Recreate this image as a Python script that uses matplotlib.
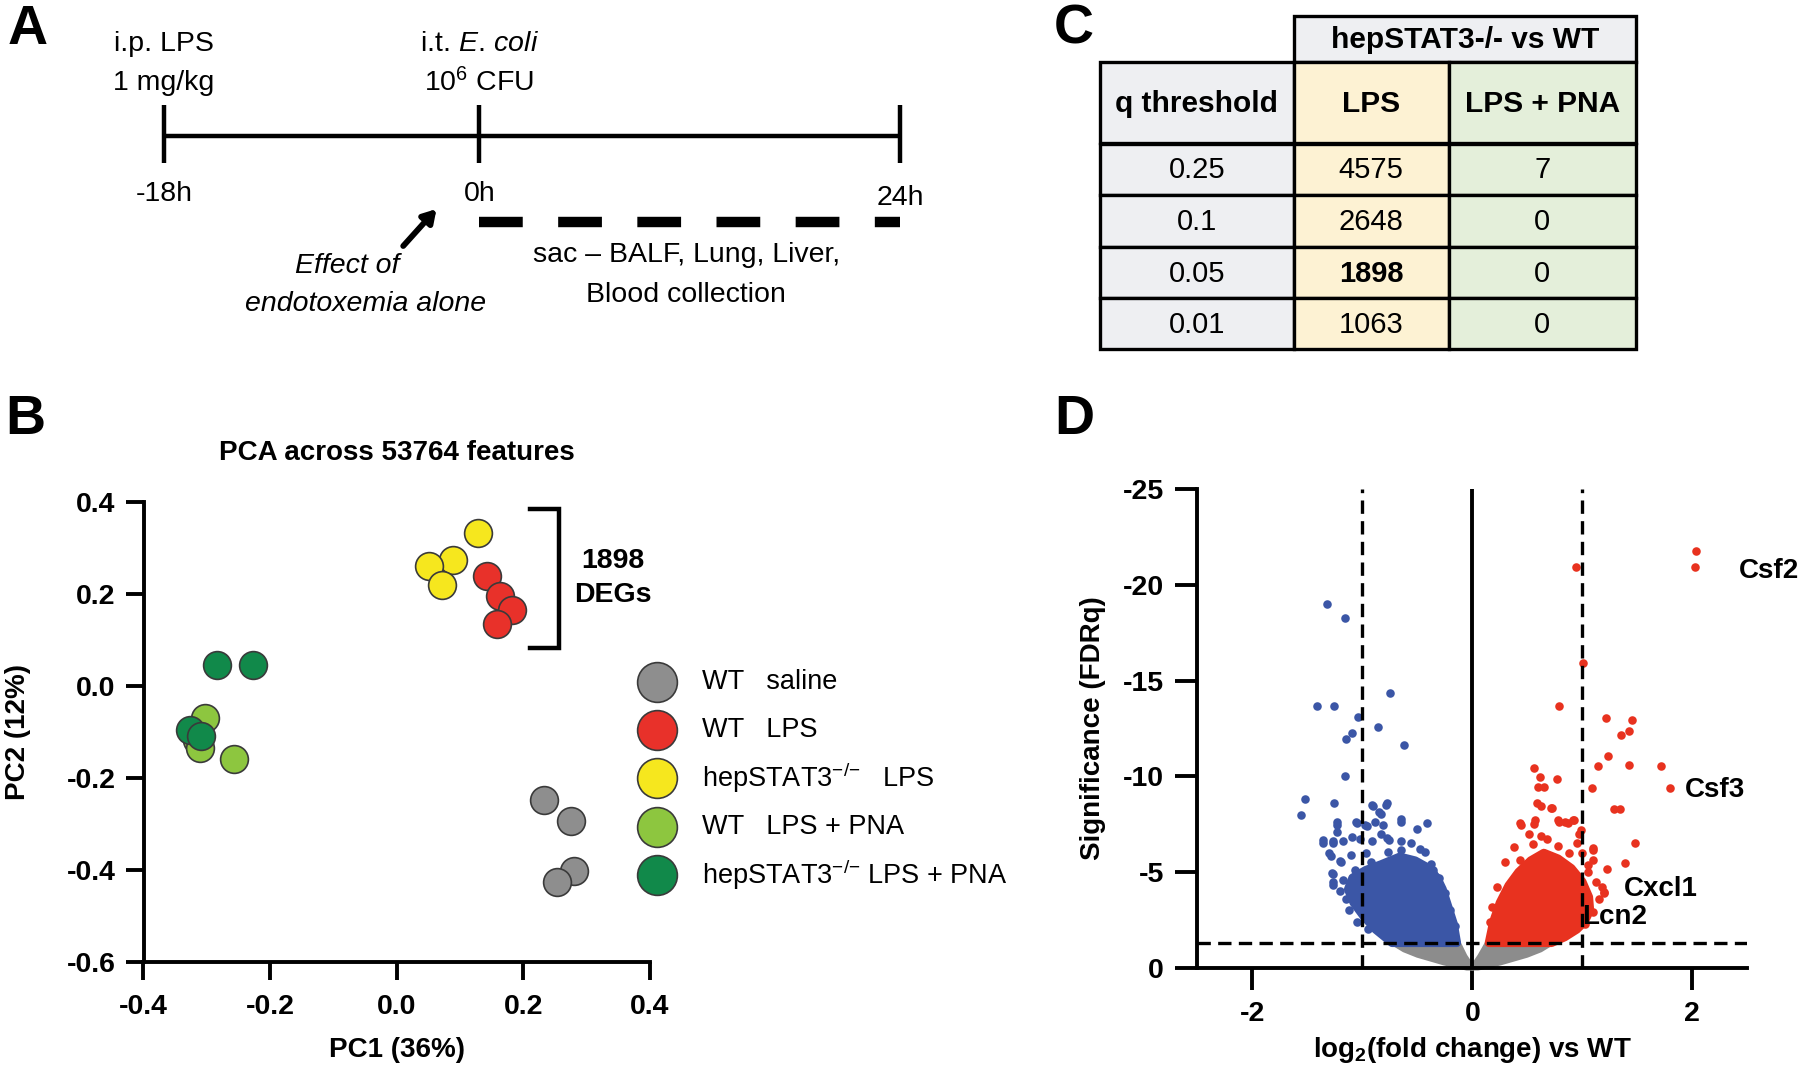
import numpy as np
import matplotlib
matplotlib.use("Agg")
import matplotlib.pyplot as plt
from matplotlib.patches import Polygon, Rectangle

FONT = ['Liberation Sans', 'DejaVu Sans']
plt.rcParams['font.family'] = FONT
plt.rcParams['axes.unicode_minus'] = False
plt.rcParams['mathtext.fontset'] = 'custom'
plt.rcParams['mathtext.rm'] = 'Liberation Sans'
plt.rcParams['mathtext.it'] = 'Liberation Sans:italic'
plt.rcParams['mathtext.bf'] = 'Liberation Sans:bold'

## ---- data ----
# panel A timeline (hours)
event_hours = [-18, 0, 24]
event_hour_labels = ["-18h", "0h", "24h"]
event_line1 = ["i.p. LPS", "i.t. $\\mathit{E.\\,coli}$", ""]
event_line2 = ["1 mg/kg", "10$^6$ CFU", ""]
collection_window = [0, 24]

# panel C table
q_thresholds = ["0.25", "0.1", "0.05", "0.01"]
degs_lps = [4575, 2648, 1898, 1063]
degs_lps_pna = [7, 0, 0, 0]

# panel B PCA
group_labels = ["WT   saline", "WT   LPS", "hepSTAT3$^{{-}/{-}}$   LPS",
                "WT   LPS + PNA", "hepSTAT3$^{{-}/{-}}$ LPS + PNA"]
group_colors = ["#8e8e8e", "#e8312a", "#f6e71e", "#8dc63f", "#11894a"]
pc1_wt_saline = [0.233, 0.276, 0.280, 0.254]
pc2_wt_saline = [-0.247, -0.293, -0.402, -0.426]
pc1_ko_lps = [0.129, 0.089, 0.051, 0.072]
pc2_ko_lps = [0.333, 0.274, 0.260, 0.219]
pc1_wt_lps = [0.143, 0.163, 0.182, 0.158]
pc2_wt_lps = [0.239, 0.195, 0.165, 0.135]
pc1_wt_pna = [-0.303, -0.315, -0.310, -0.257]
pc2_wt_pna = [-0.070, -0.118, -0.135, -0.158]
pc1_ko_pna = [-0.284, -0.227, -0.327, -0.309]
pc2_ko_pna = [0.045, 0.045, -0.095, -0.108]

# panel D volcano: individually visible genes
blue_x = [-1.318, -1.16, -0.746, -1.41, -1.258, -1.04, -0.861, -1.096, -1.147, -0.623,
          -1.16, -1.522, -1.258, -1.556, -0.904, -0.785, -0.827, -0.648, -0.414, -1.053,
          -1.232, -0.955, -1.36, -1.266, -1.023, -0.776, -1.288, -1.194, -1.266, -1.266,
          -0.358, -0.563, -0.478,
          -0.914, -0.778, -0.845, -1.228, -1.056, -0.98, -0.885, -0.815, -0.649, -0.505,
          -1.228, -1.357, -1.27, -1.18, -1.09, -0.91, -0.83, -0.76, -0.65, -0.56, -0.43,
          -1.3, -1.2, -1.1, -0.97, -0.77, -0.65, -0.357, -1.28, -1.27, -1.18, -1.07, -0.92,
          -1.12, -1.05, -0.95, -1.15, -0.3, -0.25, -0.2, -0.16, -0.38, -1.2, -1.0, -0.88]
blue_y = [-19.0, -18.26, -14.36, -13.67, -13.67, -13.1, -12.58, -12.27, -11.97, -11.62,
          -10.02, -8.82, -8.63, -7.98, -8.45, -8.5, -8.05, -7.63, -7.54, -7.54,
          -7.47, -7.4, -6.54, -6.54, -6.7, -6.77, -5.85, -5.5, -4.92, -4.34,
          -4.97, -5.57, -6.19,
          -8.5, -8.6, -8.15, -7.63, -7.63, -7.45, -7.63, -7.45, -7.75, -7.23,
          -7.1, -6.67, -6.6, -6.6, -6.85, -6.6, -7.0, -6.67, -6.6, -6.5, -6.06,
          -5.98, -5.6, -5.9, -5.98, -6.06, -6.15, -5.1, -4.93, -4.5, -4.58, -5.1, -5.5,
          -3.0, -2.4, -2.0, -3.6, -4.7, -3.9, -3.0, -2.2, -5.4, -4.0, -4.3, -5.2]
red_x = [2.036, 2.026, 0.938, 1.006, 0.789, 1.215, 1.454, 1.356, 1.42, 1.237,
         1.143, 1.42, 1.719, 0.559, 1.795, 1.092, 0.618, 0.768, 0.601, 0.652,
         1.292, 1.343, 0.589, 0.623, 0.716, 0.789, 0.866, 0.921, 0.972, 0.439,
         0.559, 1.475, 1.39, 1.228, 1.1, 1.194, 1.05,
         0.436, 0.571, 0.722, 0.782, 0.842, 0.917, 0.992, 0.511, 0.556, 0.676, 0.782,
         1.1, 0.436, 1.1, 0.38, 0.95, 1.05, 1.12, 1.15, 1.1, 1.02, 0.3, 0.22, 0.18,
         0.16, 0.62, 0.88, 1.0, 1.18, 1.2]
red_y = [-21.76, -20.94, -20.93, -15.92, -13.67, -13.06, -12.95, -12.18, -12.39, -11.07,
         -10.53, -10.58, -10.53, -10.44, -9.37, -9.37, -9.95, -9.86, -9.44, -9.44,
         -8.28, -8.28, -8.63, -8.47, -8.33, -7.63, -7.54, -7.7, -7.0, -7.47,
         -7.52, -6.54, -5.45, -5.15, -6.15, -3.94, -5.38,
         -7.55, -7.72, -8.34, -7.72, -7.6, -7.72, -7.2, -6.98, -6.45, -6.7, -6.36,
         -6.27, -5.63, -5.63, -6.3, -6.5, -5.0, -4.5, -3.6, -2.9, -2.3, -5.5, -4.2, -3.2,
         -2.4, -6.9, -6.0, -6.0, -4.2, -3.9]
# dense cores (outline of the solid mass of dots)
blue_core_x = [-0.73, -0.88, -0.99, -1.08, -1.13, -1.09, -0.97, -0.83, -0.66, -0.52, -0.41, -0.32, -0.27, -0.22, -0.17, -0.14]
blue_core_y = [-1.3, -2.0, -2.7, -3.4, -4.1, -4.7, -5.1, -5.4, -5.8, -5.6, -5.25, -4.7, -4.1, -3.2, -2.3, -1.3]
red_core_x = [0.15, 0.19, 0.25, 0.33, 0.42, 0.53, 0.65, 0.78, 0.9, 1.0, 1.06, 1.07, 1.02, 0.95, 0.84, 0.72]
red_core_y = [-1.3, -2.4, -3.4, -4.3, -5.0, -5.6, -6.0, -5.7, -5.2, -4.5, -3.7, -3.0, -2.4, -2.0, -1.6, -1.3]
gray_left_x = [-0.72, -0.13, -0.07, 0.0, -0.05, -0.258, -0.498, -0.62]
gray_left_y = [-1.3, -1.3, -0.6, 0.0, 0.0, -0.27, -0.67, -0.95]
gray_right_x = [0.14, 0.72, 0.62, 0.496, 0.255, 0.05, 0.0, 0.07]
gray_right_y = [-1.3, -1.3, -0.95, -0.67, -0.27, 0.0, 0.0, -0.6]
gene_labels = ["Csf2", "Csf3", "Cxcl1", "Lcn2"]
gene_label_x = [2.42, 1.93, 1.38, 0.995]
gene_label_y = [-20.7, -9.3, -4.1, -2.65]
fc_cut = 1.0
q_cut = 0.05

## ---- figure ----
fig = plt.figure(figsize=(18, 10.75), dpi=100)
W, H = 1800.0, 1075.0

def px_axes(x0, y0, x1, y1):
    # axes from a pixel box (top-left origin)
    return fig.add_axes([x0 / W, 1 - y1 / H, (x1 - x0) / W, (y1 - y0) / H])

# panel letters
for letter, (lx, ly) in zip("ABCD", [(8, 4), (5, 394), (1054, 4), (1054, 394)]):
    fig.text(lx / W, 1 - ly / H, letter, fontsize=40, fontweight='bold', ha='left', va='top')

# ---- A: timeline ----
ax_a = px_axes(0, 0, 1060, 330)
ax_a.set_xlim(-27.36, 33.13)
ax_a.set_ylim(330, 0)
ax_a.axis('off')
ax_a.plot([event_hours[0], event_hours[-1]], [135.5, 135.5], color='black', lw=3.2, solid_capstyle='butt')
for h, lab, l1, l2 in zip(event_hours, event_hour_labels, event_line1, event_line2):
    ax_a.plot([h, h], [105, 163], color='black', lw=3.2, solid_capstyle='butt')
    ax_a.text(h, 194 if h < 24 else 198, lab, fontsize=20.5, ha='center', va='center')
    if l1:
        ax_a.text(h, 44, l1, fontsize=20.5, ha='center', va='center')
        ax_a.text(h, 83, l2, fontsize=20.5, ha='center', va='center')
ax_a.plot(collection_window, [221.5, 221.5], color='black', lw=7.5, dashes=(4.2, 3.4))
ax_a.annotate("", xy=(-2.45, 209), xytext=(-4.35, 246),
              arrowprops=dict(arrowstyle='-|>,head_length=0.75,head_width=0.45', color='black', lw=4.2,
                              shrinkA=0, shrinkB=0))
ax_a.text(-7.56, 266, "Effect of", fontsize=20.5, style='italic', ha='center', va='center')
ax_a.text(-6.5, 304, "endotoxemia alone", fontsize=20.5, style='italic', ha='center', va='center')
ax_a.text(11.8, 255, "sac \u2013 BALF, Lung, Liver,", fontsize=20.5, ha='center', va='center')
ax_a.text(11.8, 295, "Blood collection", fontsize=20.5, ha='center', va='center')

# ---- C: table ----
ax_c = px_axes(1090, 8, 1645, 358)
ax_c.set_xlim(1090, 1645)
ax_c.set_ylim(358, 8)
ax_c.axis('off')
col_edges = [1099.8, 1293.8, 1448.8, 1635.9]
row_edges = [62, 143.5, 195, 246.8, 298.5, 349]
col_fill = ["#eeeff2", "#fdf2d3", "#e4efda"]
tbl_lw = 2.4
ax_c.add_patch(Rectangle((col_edges[1], 16), col_edges[3] - col_edges[1], 46,
                         fc=col_fill[0], ec='black', lw=tbl_lw))
ax_c.text((col_edges[1] + col_edges[3]) / 2, 40, "hepSTAT3-/- vs WT", fontsize=21.5,
          fontweight='bold', ha='center', va='center')
rows = [["q threshold", "LPS", "LPS + PNA"]] + \
       [[q, str(a), str(b)] for q, a, b in zip(q_thresholds, degs_lps, degs_lps_pna)]
for r, row in enumerate(rows):
    y0, y1 = row_edges[r], row_edges[r + 1]
    for c, val in enumerate(row):
        x0, x1 = col_edges[c], col_edges[c + 1]
        ax_c.add_patch(Rectangle((x0, y0), x1 - x0, y1 - y0, fc=col_fill[c], ec='black', lw=tbl_lw))
        bold = (r == 0) or (val == str(degs_lps[2]) and c == 1)
        ax_c.text((x0 + x1) / 2, (y0 + y1) / 2 + 1, val, fontsize=21.5 if r == 0 else 21,
                  fontweight='bold' if bold else 'normal', ha='center', va='center')

# ---- B: PCA ----
ax_b = px_axes(143.5, 501.7, 649.8, 962)
groups = [(pc1_wt_saline, pc2_wt_saline, group_colors[0]),
          (pc1_ko_lps, pc2_ko_lps, group_colors[2]),
          (pc1_wt_lps, pc2_wt_lps, group_colors[1]),
          (pc1_wt_pna, pc2_wt_pna, group_colors[3]),
          (pc1_ko_pna, pc2_ko_pna, group_colors[4])]
for xs, ys, col in groups:
    ax_b.scatter(xs, ys, s=400, c=col, edgecolors='#3a3a3a', linewidths=1.2, zorder=3, clip_on=False)
ax_b.set_xlim(-0.4, 0.4)
ax_b.set_ylim(-0.6, 0.4)
ax_b.set_xticks([-0.4, -0.2, 0.0, 0.2, 0.4])
ax_b.set_yticks([-0.6, -0.4, -0.2, 0.0, 0.2, 0.4])
ax_b.xaxis.set_major_formatter(plt.FormatStrFormatter('%.1f'))
ax_b.yaxis.set_major_formatter(plt.FormatStrFormatter('%.1f'))
for sp in ['top', 'right']:
    ax_b.spines[sp].set_visible(False)
for sp in ['left', 'bottom']:
    ax_b.spines[sp].set_linewidth(2.8)
ax_b.tick_params(width=2.8, length=13, labelsize=20.5, pad=7)
ax_b.tick_params(axis='x', pad=10)
for t in ax_b.get_xticklabels() + ax_b.get_yticklabels():
    t.set_fontweight('bold')
ax_b.set_xlabel("PC1 (36%)", fontsize=20, fontweight='bold', labelpad=12)
ax_b.set_ylabel("PC2 (12%)", fontsize=20, fontweight='bold', labelpad=26)
ax_b.set_title("PCA across 53764 features", fontsize=20, fontweight='bold', pad=30, x=0.5)
# bracket with DEG count from table
ax_b.plot([0.21, 0.257, 0.257, 0.21], [0.385, 0.385, 0.083, 0.083], color='black', lw=3.2,
          solid_joinstyle='miter', clip_on=False)
ax_b.text(0.342, 0.234, f"{degs_lps[2]}\nDEGs", fontsize=20.5, fontweight='bold',
          ha='center', va='center', linespacing=1.4)
# legend
for i, (lab, col) in enumerate(zip(group_labels, group_colors)):
    ly = 0.609 - i * 0.1049
    ax_b.scatter([1.0136], [ly], s=820, c=col, edgecolors='#3a3a3a', linewidths=1.2,
                 transform=ax_b.transAxes, clip_on=False)
    ax_b.text(1.1025, ly, lab, fontsize=19.5, ha='left', va='center', transform=ax_b.transAxes)

# ---- D: volcano ----
ax_d = px_axes(1197.4, 489, 1747.3, 967.8)
blue, red, grey = "#3b56a6", "#e8321f", "#8c8c8c"
for px_, py_, col, lw in [(gray_left_x, gray_left_y, grey, 4), (gray_right_x, gray_right_y, grey, 4),
                          (blue_core_x, blue_core_y, blue, 6), (red_core_x, red_core_y, red, 6)]:
    ax_d.add_patch(Polygon(np.column_stack([px_, py_]), closed=True, fc=col, ec=col,
                           lw=lw, joinstyle='round', zorder=2, clip_on=False))
ax_d.scatter(blue_x, blue_y, s=38, c=blue, lw=0, zorder=2)
ax_d.scatter(red_x, red_y, s=38, c=red, lw=0, zorder=2)
ax_d.set_xlim(-2.5, 2.5)
ax_d.set_ylim(0, -25)
thr = np.log10(q_cut)
ax_d.axhline(thr, color='black', lw=2.4, dashes=(4, 2.2), zorder=4)
for xv in (-fc_cut, fc_cut):
    ax_d.axvline(xv, color='black', lw=2.4, dashes=(4, 2.2), zorder=4)
ax_d.axvline(0, color='black', lw=2.8, zorder=4)
for g, gx, gy in zip(gene_labels, gene_label_x, gene_label_y):
    ax_d.text(gx, gy, g, fontsize=20, fontweight='bold', ha='left', va='center', zorder=5,
              clip_on=False)
ax_d.set_xticks([-2, 0, 2])
ax_d.set_yticks([0, -5, -10, -15, -20, -25])
for sp in ['top', 'right']:
    ax_d.spines[sp].set_visible(False)
for sp in ['left', 'bottom']:
    ax_d.spines[sp].set_linewidth(2.8)
ax_d.tick_params(width=2.8, length=16, labelsize=20.5, pad=8)
for t in ax_d.get_xticklabels() + ax_d.get_yticklabels():
    t.set_fontweight('bold')
ax_d.set_xlabel("log$_\\mathbf{2}$(fold change) vs WT", fontsize=20, fontweight='bold', labelpad=6)
ax_d.set_ylabel("Significance (FDRq)", fontsize=20, fontweight='bold', labelpad=12)

fig.savefig("out.png", dpi=100)
